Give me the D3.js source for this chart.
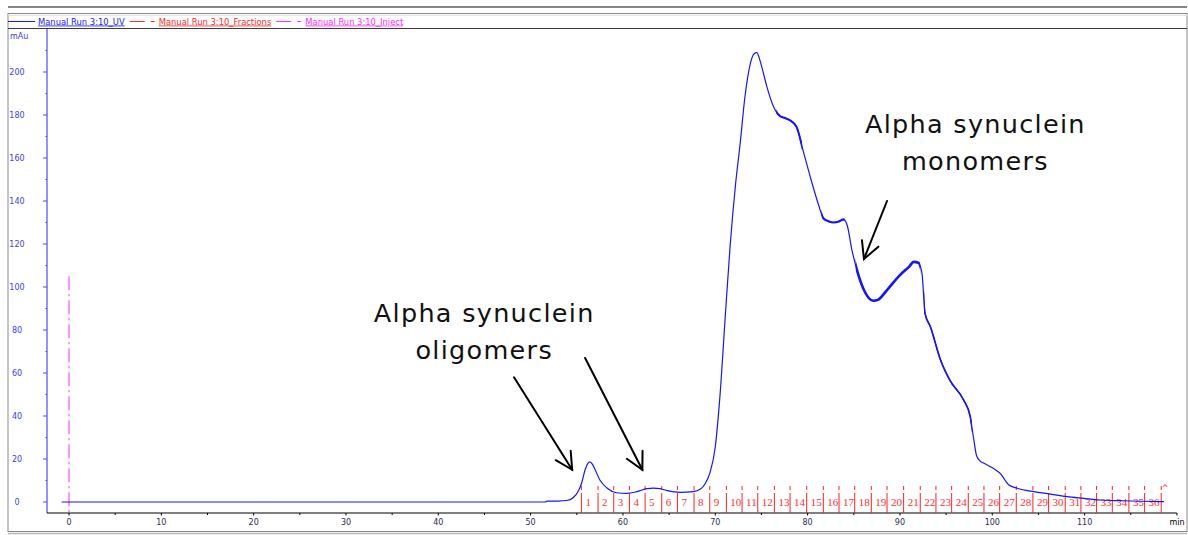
<!DOCTYPE html>
<html>
<head>
<meta charset="utf-8">
<script src="https://cdn.jsdelivr.net/npm/d3@7"></script>
<style>
  html, body { margin: 0; padding: 0; background: #ffffff; }
  svg { display: block; }
</style>
</head>
<body>
<svg id="chart" width="1188" height="535"></svg>
<script>
// UV absorbance trace (time in min, absorbance in mAu)
const uvTime = [-0.8, 51.6, 51.8, 53.0, 53.9, 54.6, 55.2, 55.5, 55.9, 56.2, 56.4, 56.7, 57.0, 57.5, 58.3,
  59.3, 60.4, 61.5, 62.6, 63.3, 64.0, 64.8, 66.2, 67.6, 68.4, 68.9, 69.4, 70.0, 70.5, 71.1, 71.6, 72.2,
  72.7, 73.2, 73.8, 74.2, 74.5, 74.8, 75.0, 75.6, 76.3, 77.0, 77.6, 78.1, 78.8, 79.6, 80.3, 81.2, 81.7,
  82.3, 82.8, 83.4, 83.9, 84.3, 84.8, 85.4, 86.1, 86.6, 87.1, 87.6, 88.6, 90.0, 91.0, 91.5, 92.0, 92.4,
  92.7, 93.3, 94.4, 95.4, 96.9, 97.6, 98.0, 98.3, 98.7, 99.1, 100.1, 101.0, 101.4, 101.8, 102.7, 104.5,
  106.3, 108.1, 109.9, 111.7, 114.0, 116.0, 118.6];
const uvAbs = [0, 0, 0.4, 0.45, 0.7, 2.0, 5.4, 8.5, 15.0, 18.0, 18.7, 17.5, 14.9, 10.2, 6.4,
  4.3, 4.0, 4.8, 6.2, 6.5, 6.2, 5.3, 4.5, 4.8, 6.0, 8.5, 13.3, 25.7, 49, 87.7, 118.7, 148,
  167, 188, 204, 208.5, 209, 206, 203, 193, 184, 179.5, 178.5, 177.5, 174.5, 162, 151, 138, 132,
  130.5, 130, 130.5, 131.5, 128.5, 117.2, 107, 98.6, 95, 93.6, 94, 98.6, 105.5, 109.5, 111.7, 111.3, 106,
  88, 81.5, 66, 56.7, 47.4, 40, 29, 21.5, 19, 18, 15.7, 12.6, 10, 7.9, 6.4, 4.8,
  3.7, 2.5, 1.7, 0.93, 0.6, 0.35, 0.15];

// Stretches of the trace where detector noise thickens the line (min)
const noisyStart = [76.6, 81.5, 85.2, 92.6];
const noisyEnd = [79.4, 84.0, 92.2, 97.8];
const noisyWidth = [2.0, 2.2, 2.6, 1.6];

// Fraction collector marks (min) and fraction numbers
const fractionBounds = [55.5, 57.3, 59.0, 60.7, 62.4, 64.2, 65.9, 67.7, 69.4, 71.2, 72.9, 74.6, 76.4,
  78.1, 79.9, 81.7, 83.4, 85.1, 86.9, 88.6, 90.4, 92.2, 93.9, 95.6, 97.4, 99.1, 100.8, 102.6, 104.4,
  106.1, 107.9, 109.6, 111.3, 113.0, 114.8, 116.5, 118.3];
const fractionLabels = d3.range(1, 37).map(String);

// Injection mark
const injectTime = 0;
const injectHeight = 105;

// Axis ticks
const yTickValues = [0, 20, 40, 60, 80, 100, 120, 140, 160, 180, 200];
const yMinorValues = [10, 30, 50, 70, 90, 110, 130, 150, 170, 190, 210];
const xTickValues = [0, 10, 20, 30, 40, 50, 60, 70, 80, 90, 100, 110, 120];
const xMinorValues = [5, 15, 25, 35, 45, 55, 65, 75, 85, 95, 105, 115];
const xUnit = "min";
const yUnit = "mAu";

// Legend entries
const legendNames = ["Manual Run 3:10_UV", "Manual Run 3:10_Fractions", "Manual Run 3:10_Inject"];
const legendColors = ["#1a1aff", "#ff2a2a", "#ff2aff"];

// Annotations: text centre (min) and first baseline (mAu)
const annotationLines = [["Alpha synuclein", "oligomers"], ["Alpha synuclein", "monomers"]];
const annotationTime = [44.9, 98.1];
const annotationLevel = [83.9, 171.8];
// Arrows: tail and head in (min, mAu)
const arrowFrom = [[48.2, 58], [55.9, 67], [88.6, 140]];
const arrowTo = [[54.5, 15], [62.1, 15], [86.1, 113]];

const svg = d3.select("#chart");
const W = 1188, H = 535;

const x = d3.scaleLinear().domain([0, 110]).range([69, 1084.6]);
const y = d3.scaleLinear().domain([0, 200]).range([502, 72]);
const axisY = 513, axisX = 47;

// window frame
svg.append("rect").attr("width", W).attr("height", H).attr("fill", "#ffffff");
svg.append("line").attr("x1", 8).attr("x2", 1187).attr("y1", 7).attr("y2", 7)
  .attr("stroke", "#858585").attr("stroke-width", 2);
svg.append("rect").attr("x", 8).attr("y", 13.5).attr("width", 1179).attr("height", 518)
  .attr("fill", "none").attr("stroke", "#8a8a8a").attr("stroke-width", 1);
svg.append("line").attr("x1", 8).attr("x2", 1187).attr("y1", 15.5).attr("y2", 15.5)
  .attr("stroke", "#e4e4e4").attr("stroke-width", 1);
svg.append("line").attr("x1", 8).attr("x2", 1187).attr("y1", 28.5).attr("y2", 28.5)
  .attr("stroke", "#3c3c3c").attr("stroke-width", 1.2);
svg.append("line").attr("x1", 8).attr("x2", 1187).attr("y1", 533.5).attr("y2", 533.5)
  .attr("stroke", "#b8b8b8").attr("stroke-width", 1.5);

// legend
let lx = 8;
const legendG = svg.append("g").attr("font-family", "DejaVu Sans, Verdana, sans-serif")
  .attr("font-size", 8.4);
legendNames.forEach((name, i) => {
  const c = legendColors[i];
  if (i === 0) {
    legendG.append("line").attr("x1", lx).attr("x2", lx + 27).attr("y1", 21.5).attr("y2", 21.5)
      .attr("stroke", c).attr("stroke-width", 1);
    lx += 30;
  } else {
    legendG.append("line").attr("x1", lx).attr("x2", lx + 15).attr("y1", 21.5).attr("y2", 21.5)
      .attr("stroke", c).attr("stroke-width", 1);
    legendG.append("line").attr("x1", lx + 21).attr("x2", lx + 25).attr("y1", 21.5).attr("y2", 21.5)
      .attr("stroke", c).attr("stroke-width", 1);
    lx += 29;
  }
  const t = legendG.append("text").attr("x", lx).attr("y", 24.5).attr("fill", c)
    .attr("text-decoration", "underline").text(name);
  lx += t.node().getComputedTextLength() + 5;
});

// y axis
svg.append("line").attr("x1", axisX).attr("x2", axisX).attr("y1", 29).attr("y2", axisY)
  .attr("stroke", "#4a4aff").attr("stroke-width", 1.2);
const yg = svg.append("g").attr("font-family", "DejaVu Sans, Verdana, sans-serif").attr("font-size", 8)
  .attr("fill", "#4040e8");
yTickValues.forEach(v => {
  yg.append("line").attr("x1", axisX - 4).attr("x2", axisX).attr("y1", y(v)).attr("y2", y(v))
    .attr("stroke", "#4a4aff");
  yg.append("text").attr("x", 17).attr("y", y(v) + 3).attr("text-anchor", "middle").text(v);
});
yMinorValues.forEach(v => {
  yg.append("line").attr("x1", axisX - 1.5).attr("x2", axisX).attr("y1", y(v)).attr("y2", y(v))
    .attr("stroke", "#4a4aff");
});
yg.append("text").attr("x", 10).attr("y", 39).text(yUnit);

// x axis
svg.append("line").attr("x1", axisX).attr("x2", x(120)).attr("y1", axisY).attr("y2", axisY)
  .attr("stroke", "#000").attr("stroke-width", 1.2);
const xg = svg.append("g").attr("font-family", "DejaVu Sans, Verdana, sans-serif").attr("font-size", 8)
  .attr("fill", "#2a2a50");
xTickValues.forEach(v => {
  xg.append("line").attr("x1", x(v)).attr("x2", x(v)).attr("y1", axisY).attr("y2", axisY + 2.5)
    .attr("stroke", "#000");
  xg.append("text").attr("x", x(v)).attr("y", 524.5).attr("text-anchor", "middle")
    .attr("fill", v === 120 ? "#000" : "#2a2a50").text(v === 120 ? xUnit : v);
});
xMinorValues.forEach(v => {
  xg.append("line").attr("x1", x(v)).attr("x2", x(v)).attr("y1", axisY).attr("y2", axisY + 2)
    .attr("stroke", "#000");
});

// injection mark
svg.append("line").attr("x1", x(injectTime)).attr("x2", x(injectTime))
  .attr("y1", y(injectHeight)).attr("y2", axisY)
  .attr("stroke", "#ff2aff").attr("stroke-width", 1).attr("stroke-dasharray", "14,4,2,4");

// fraction marks
const fg = svg.append("g");
fractionBounds.forEach(t => {
  fg.append("line").attr("x1", x(t)).attr("x2", x(t)).attr("y1", 486).attr("y2", axisY)
    .attr("stroke", "#ff2020").attr("stroke-width", 1).attr("stroke-dasharray", "4,3,20");
});
fractionLabels.forEach((lab, i) => {
  fg.append("text").attr("x", x(fractionBounds[i]) + 4).attr("y", 506)
    .attr("font-family", "Liberation Serif, Times New Roman, serif").attr("font-size", 11)
    .attr("fill", "#ff3030").text(lab);
});
fg.append("text").attr("x", x(fractionBounds[fractionBounds.length - 1]) + 0.5).attr("y", 491)
  .attr("font-family", "DejaVu Sans, sans-serif").attr("font-size", 8).attr("fill", "#ff3030").text("^");

// UV curve
const uv = uvTime.map((t, i) => [t, uvAbs[i]]);
const line = d3.line().x(d => x(d[0])).y(d => y(d[1])).curve(d3.curveMonotoneX);
const uvPath = line(uv);
svg.append("path").attr("d", uvPath).attr("fill", "none")
  .attr("stroke", "#1414ff").attr("stroke-width", 1.2);

// thicker, noisy stretches: same path, clipped to each time window
const defs = svg.append("defs");
noisyStart.forEach((t0, i) => {
  const id = "noise" + i;
  defs.append("clipPath").attr("id", id).append("rect")
    .attr("x", x(t0)).attr("y", 0).attr("width", x(noisyEnd[i]) - x(t0)).attr("height", H);
  svg.append("path").attr("d", uvPath).attr("fill", "none").attr("clip-path", `url(#${id})`)
    .attr("stroke", "#1414ff").attr("stroke-width", noisyWidth[i]);
});

// annotations
const ag = svg.append("g").attr("font-family", "DejaVu Sans, Verdana, sans-serif")
  .attr("font-size", 25.5).attr("letter-spacing", 1.3).attr("fill", "#111");
annotationLines.forEach((lines, i) => {
  lines.forEach((l, j) => {
    ag.append("text").attr("x", x(annotationTime[i]) + 0.65).attr("y", y(annotationLevel[i]) + j * 37)
      .attr("text-anchor", "middle").text(l);
  });
});
arrowFrom.forEach((f, i) => {
  const x1 = x(f[0]), y1 = y(f[1]), x2 = x(arrowTo[i][0]), y2 = y(arrowTo[i][1]);
  const ang = Math.atan2(y2 - y1, x2 - x1);
  const L = 19, spread = Math.PI / 6.5;
  const g = svg.append("g").attr("stroke", "#000").attr("stroke-width", 2).attr("fill", "none")
    .attr("stroke-linecap", "round");
  g.append("line").attr("x1", x1).attr("y1", y1).attr("x2", x2).attr("y2", y2);
  g.append("path").attr("d",
    `M${x2 - L * Math.cos(ang - spread)},${y2 - L * Math.sin(ang - spread)} L${x2},${y2} L${x2 - L * Math.cos(ang + spread)},${y2 - L * Math.sin(ang + spread)}`);
});
</script>
</body>
</html>
